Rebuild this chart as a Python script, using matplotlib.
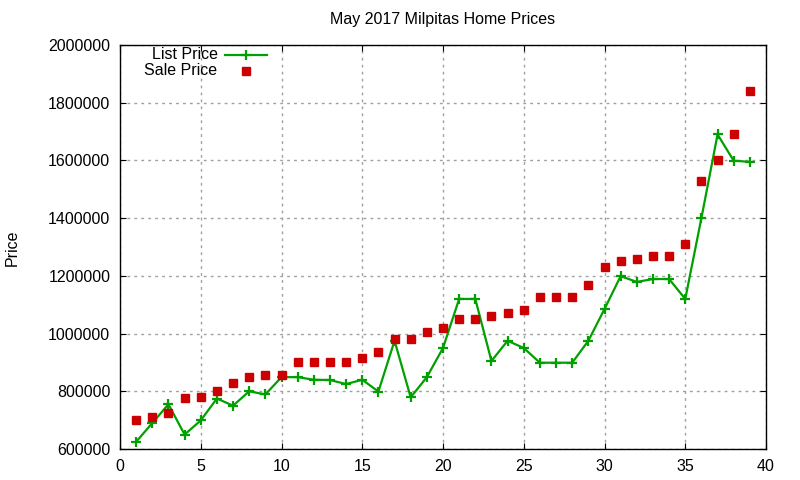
import matplotlib
matplotlib.use("Agg")
import matplotlib.pyplot as plt
from matplotlib.lines import Line2D

plt.rcParams['font.family'] = ['Liberation Sans', 'DejaVu Sans']

# house index (sorted by sale price) and prices
house = list(range(1, 40))
list_price = [625000, 690000, 755000, 650000, 699000, 775000, 750000, 800000, 789000, 849000,
              849000, 840000, 839000, 825000, 840000, 799000, 975000, 779000, 849000, 950000,
              1120000, 1120000, 905000, 975000, 950000, 899000, 899000, 899000, 975000, 1085000,
              1199000, 1179000, 1189000, 1189000, 1120000, 1400000, 1690000, 1599000, 1595000]
sale_price = [700000, 710000, 725000, 777000, 780000, 800000, 830000, 850000, 855000, 855000,
              900000, 900000, 900000, 900000, 915000, 935000, 980000, 980000, 1005000, 1020000,
              1050000, 1050000, 1060000, 1070000, 1080000, 1128000, 1128000, 1128000, 1170000, 1230000,
              1250000, 1260000, 1270000, 1270000, 1310000, 1530000, 1600000, 1690000, 1840000]

green = '#00a000'
red = '#cc0000'
fs = 11.5

fig = plt.figure(figsize=(8, 4.8), dpi=100)
ax = fig.add_axes([120 / 800, 1 - 449 / 480, 646 / 800, 404 / 480])

ax.plot(house, list_price, color=green, lw=1.6, marker='+', ms=7, mew=1.6)
ax.plot(house, sale_price, ls='none', marker='s', ms=6.3, color=red, mec=red)

ax.set_xlim(0, 40)
ax.set_ylim(600000, 2000000)
ax.set_xticks(range(0, 41, 5))
ax.set_yticks(range(600000, 2000001, 200000))
ax.ticklabel_format(style='plain', useOffset=False)
ax.grid(True, color='#a0a0a0', ls=(0, (2, 3)), lw=1)
ax.tick_params(direction='in', length=4, top=True, right=True, labelsize=fs, pad=7)
for s in ax.spines.values():
    s.set_linewidth(1)

ax.set_title('May 2017 Milpitas Home Prices', fontsize=fs, pad=15)
fig.text(12 / 800, 1 - 248 / 480, 'Price', rotation=90, fontsize=fs, ha='center', va='center')

# gnuplot style key: right-aligned text then sample
ax.text(0.151, 0.976, 'List Price', transform=ax.transAxes, ha='right', va='center', fontsize=fs)
ax.text(0.151, 0.936, 'Sale Price', transform=ax.transAxes, ha='right', va='center', fontsize=fs)
ax.add_line(Line2D([0.163, 0.227], [0.976, 0.976], transform=ax.transAxes, color=green, lw=1.6))
ax.add_line(Line2D([0.1945], [0.976], transform=ax.transAxes, color=green, marker='+', ms=7, mew=1.6))
ax.add_line(Line2D([0.1945], [0.936], transform=ax.transAxes, color=red, marker='s', ms=6.3, ls='none'))

fig.savefig('out.png', dpi=100)
